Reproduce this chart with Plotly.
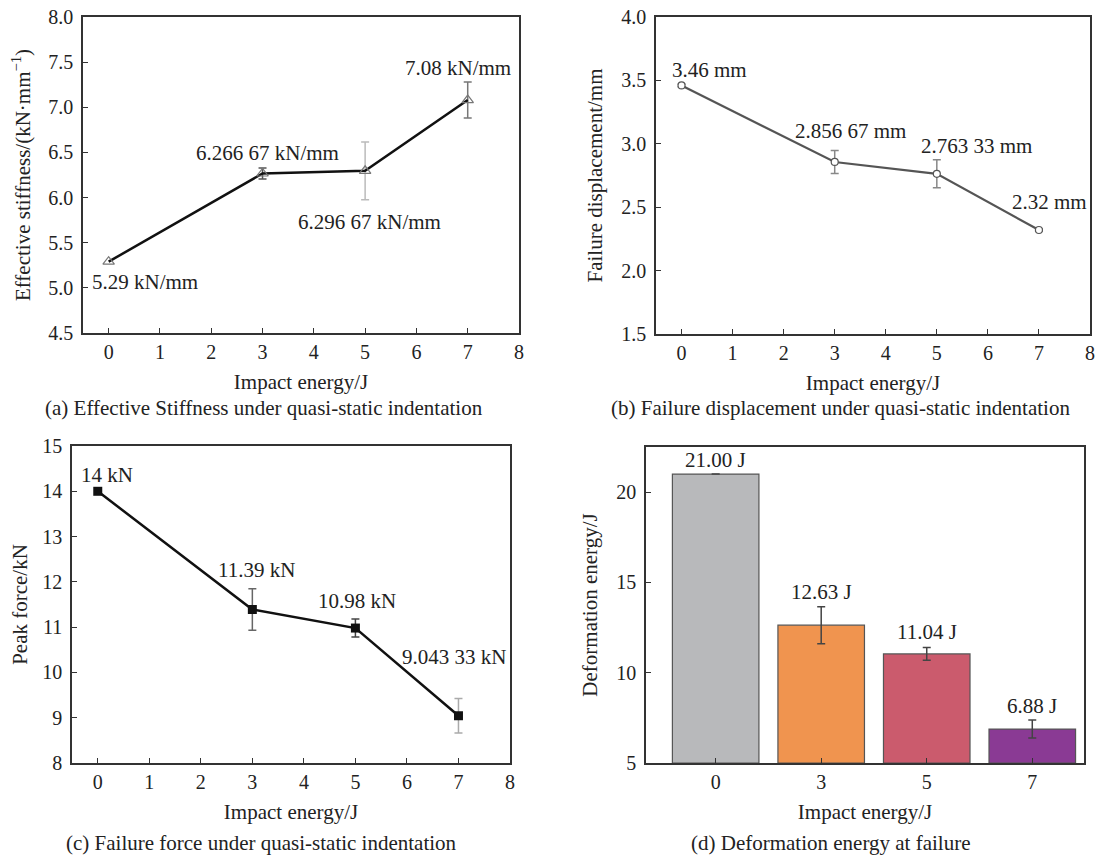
import math
import plotly.graph_objects as go

# ---------------- data ----------------
impact_energy = [0, 3, 5, 7]

stiffness = [5.29, 6.26667, 6.29667, 7.08]
stiffness_err = [0.02, 0.06, 0.32, 0.20]
stiffness_labels = ["5.29 kN/mm", "6.266 67 kN/mm", "6.296 67 kN/mm", "7.08 kN/mm"]

displacement = [3.46, 2.85667, 2.76333, 2.32]
displacement_err = [0.01, 0.09, 0.11, 0.01]
displacement_labels = ["3.46 mm", "2.856 67 mm", "2.763 33 mm", "2.32 mm"]

peak_force = [14.0, 11.39, 10.98, 9.04333]
peak_force_err = [0.0, 0.46, 0.20, 0.38]
peak_force_labels = ["14 kN", "11.39 kN", "10.98 kN", "9.043 33 kN"]

deform_energy = [21.00, 12.63, 11.04, 6.88]
deform_energy_err = [0.0, 1.03, 0.35, 0.50]
deform_energy_labels = ["21.00 J", "12.63 J", "11.04 J", "6.88 J"]
bar_categories = ["0", "3", "5", "7"]

captions = [
    "(a) Effective Stiffness under quasi-static indentation",
    "(b) Failure displacement under quasi-static indentation",
    "(c) Failure force under quasi-static indentation",
    "(d) Deformation energy at failure",
]

# ---------------- label placement (data coords) ----------------
pos_a = [(0.71, 5.07), (3.10, 6.49), (5.09, 5.73), (6.82, 7.43)]
pos_b = [(0.54, 3.58), (3.31, 3.10), (5.78, 2.98), (7.20, 2.54)]
pos_c = [(0.18, 14.36), (3.09, 12.26), (5.03, 11.58), (6.91, 10.34)]
pos_d_y = [21.76, 14.48, 12.26, 8.17]

FONT = "Times New Roman, Liberation Serif, Tinos, DejaVu Serif, serif"
OFF = 8                      # page body margin
W, H = 1103 - OFF, 855 - OFF

def px_x(a, b):
    return [(a - OFF) / W, (b - OFF) / W]

def px_y(top, bottom):
    return [1 - (bottom - OFF) / H, 1 - (top - OFF) / H]

fig = go.Figure()

err_cols_a = [None, "#555555", "#bbbbbb", "#777777"]
err_cols_b = ["#888888", "#888888", "#888888", "#888888"]
err_cols_c = [None, "#666666", "#444444", "#aaaaaa"]

def add_err(xs, ys, errs, cols, xa, ya, width=4, thick=1.5):
    for x, y, e, c in zip(xs, ys, errs, cols):
        if c is None or e <= 0:
            continue
        fig.add_trace(go.Scatter(
            x=[x], y=[y], mode="markers", marker=dict(size=1, opacity=0),
            error_y=dict(type="data", array=[e], visible=True, color=c,
                         thickness=thick, width=width),
            xaxis=xa, yaxis=ya, showlegend=False, hoverinfo="skip"))

# (a)
add_err(impact_energy, stiffness, stiffness_err, err_cols_a, "x", "y")
fig.add_trace(go.Scatter(
    x=impact_energy, y=stiffness, mode="lines+markers",
    line=dict(color="#111111", width=2.5),
    marker=dict(symbol="triangle-up-open", size=10, color="#777777",
                line=dict(width=1.2)),
    xaxis="x", yaxis="y", showlegend=False))

# (b)
add_err(impact_energy, displacement, displacement_err, err_cols_b, "x2", "y2")
fig.add_trace(go.Scatter(
    x=impact_energy, y=displacement, mode="lines+markers",
    line=dict(color="#555555", width=2.2),
    marker=dict(symbol="circle", size=7, color="white",
                line=dict(color="#555555", width=1.2)),
    xaxis="x2", yaxis="y2", showlegend=False))

# (c)
add_err(impact_energy, peak_force, peak_force_err, err_cols_c, "x3", "y3")
fig.add_trace(go.Scatter(
    x=impact_energy, y=peak_force, mode="lines+markers",
    line=dict(color="#111111", width=2.5),
    marker=dict(symbol="square", size=9, color="#111111"),
    xaxis="x3", yaxis="y3", showlegend=False))

# (d)
bar_colors = ["#b8b9bb", "#f0944f", "#cb5b6d", "#8a3a94"]
bar_x = list(range(len(bar_categories)))
bar_err = [e if e > 0 else math.nan for e in deform_energy_err]
fig.add_trace(go.Bar(
    x=bar_x, y=[v - 5 for v in deform_energy], base=5, width=0.82,
    marker=dict(color=bar_colors, line=dict(color="#555555", width=1.2)),
    error_y=dict(type="data", array=bar_err, visible=True,
                 color="#444444", thickness=1.5, width=4),
    xaxis="x4", yaxis="y4", showlegend=False))

# annotations (value labels)
ann = []
for (x, y), t in zip(pos_a, stiffness_labels):
    ann.append(dict(x=x, y=y, xref="x", yref="y", text=t))
for (x, y), t in zip(pos_b, displacement_labels):
    ann.append(dict(x=x, y=y, xref="x2", yref="y2", text=t))
for (x, y), t in zip(pos_c, peak_force_labels):
    ann.append(dict(x=x, y=y, xref="x3", yref="y3", text=t))
for x, y, t in zip(bar_x, pos_d_y, deform_energy_labels):
    ann.append(dict(x=x, y=y, xref="x4", yref="y4", text=t))

# captions (reference pixel centres)
cap_pos = [(264, 408), (841, 408), (261, 843), (831, 843)]
for (cx, cy), t in zip(cap_pos, captions):
    ann.append(dict(x=(cx - OFF) / W, y=1 - (cy - OFF) / H,
                    xref="paper", yref="paper", text=t))

for a in ann:
    a.update(showarrow=False, xanchor="center", yanchor="middle",
             font=dict(family=FONT, size=21, color="#222222"))

axis_common = dict(
    showline=True, linecolor="#333333", linewidth=1.5, mirror=True,
    ticks="inside", ticklen=5, tickwidth=1.2, tickcolor="#333333",
    showgrid=False, zeroline=False, automargin=False,
    ticklabeloverflow="allow",
    tickfont=dict(family=FONT, size=20, color="#222222"),
)
title_font = dict(family=FONT, size=21, color="#222222")
xt = dict(ticklabelstandoff=0)
yt = dict(ticklabelstandoff=4)
XS, YS = 13, 13

fig.update_layout(
    width=W, height=H, margin=dict(l=0, r=0, t=0, b=0, autoexpand=False),
    paper_bgcolor="white", plot_bgcolor="white",
    font=dict(family=FONT, size=20, color="#222222"),
    annotations=ann,
    xaxis=dict(domain=px_x(83, 519), anchor="y", range=[-0.5, 8], dtick=1,
               title=dict(text="Impact energy/J", font=title_font, standoff=XS),
               **xt, **axis_common),
    yaxis=dict(domain=px_y(17, 333), anchor="x", range=[4.5, 8.0], dtick=0.5,
               tickformat=".1f",
               title=dict(text="Effective stiffness/(kN·mm<sup>−1</sup>)",
                          font=title_font, standoff=YS),
               **yt, **axis_common),
    xaxis2=dict(domain=px_x(656, 1090), anchor="y2", range=[-0.5, 8], dtick=1,
                title=dict(text="Impact energy/J", font=title_font, standoff=XS),
                **xt, **axis_common),
    yaxis2=dict(domain=px_y(17, 334), anchor="x2", range=[1.5, 4.0], dtick=0.5,
                tickformat=".1f",
                title=dict(text="Failure displacement/mm", font=title_font,
                           standoff=YS),
                **yt, **axis_common),
    xaxis3=dict(domain=px_x(72, 510), anchor="y3", range=[-0.5, 8], dtick=1,
                title=dict(text="Impact energy/J", font=title_font, standoff=XS),
                **xt, **axis_common),
    yaxis3=dict(domain=px_y(446, 763), anchor="x3", range=[8, 15], dtick=1,
                title=dict(text="Peak force/kN", font=title_font, standoff=YS),
                **yt, **axis_common),
    xaxis4=dict(domain=px_x(646, 1084), anchor="y4", range=[-0.66, 3.49],
                tickvals=bar_x, ticktext=bar_categories,
                title=dict(text="Impact energy/J", font=title_font, standoff=XS),
                **xt, **axis_common),
    yaxis4=dict(domain=px_y(447, 763), anchor="x4", range=[5, 22.5],
                tickvals=[5, 10, 15, 20],
                title=dict(text="Deformation energy/J", font=title_font,
                           standoff=YS),
                **yt, **axis_common),
)

fig.write_html("out.html")
